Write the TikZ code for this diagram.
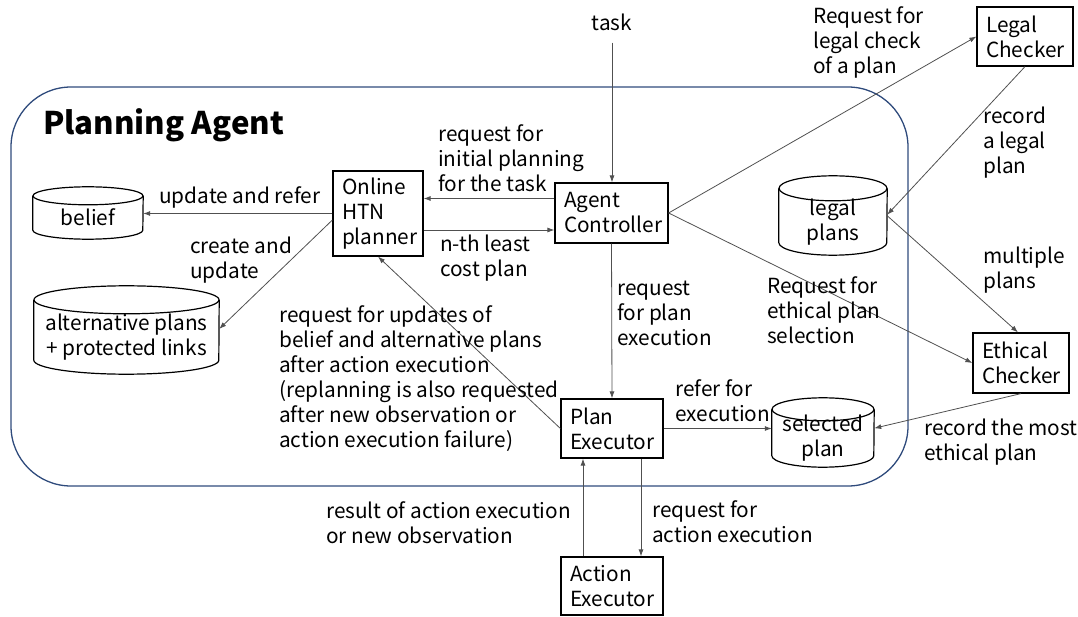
\documentclass[tikz,border=0pt]{standalone}
\usepackage{fontspec}
\setmainfont{Noto Sans CJK JP}
\usepackage{tikz}
\usetikzlibrary{arrows.meta}
\definecolor{framecol}{HTML}{2F4B7C}
\definecolor{linecol}{HTML}{505050}

\begin{document}
\begin{tikzpicture}
[x=1pt,y=-1pt,font=\fontsize{20.8}{25}\selectfont]
\tikzset{
	box/.style = {draw, line width=1.2pt, align=left, inner xsep=9pt, inner ysep=0pt},
	store/.style = {inner sep=0pt, align=center},
	frame/.style = {draw=framecol, line width=1.3pt, rounded corners=60pt},
	lbl/.style = {align=left, inner sep=0pt, anchor=west},
	arr/.style = {draw=linecol, line width=0.8pt, -{Latex[length=7pt,width=5pt]}}
}
\useasboundingbox (0,0) rectangle (1078,617);

\node (agent) [frame, minimum width=897pt, minimum height=399pt] at (459.5,286.5) {};
\node (title) [anchor=base west, inner sep=0pt, font=\fontsize{31.2}{36}\selectfont\bfseries] at (43,135) {Planning Agent};

\node (ac) [box, text width=95pt, minimum height=60pt] at (611.5,213) {Agent\\Controller};
\node (htn) [box, text width=72pt, minimum height=85pt] at (378,213.5) {Online\\HTN\\planner};
\node (lc) [box, text width=78pt, minimum height=59pt] at (1025,36.5) {Legal\\Checker};
\node (ec) [box, text width=78pt, minimum height=60pt] at (1021,363) {Ethical\\Checker};
\node (pe) [box, text width=84pt, minimum height=59pt] at (612,428.5) {Plan\\Executor};
\node (ae) [box, text width=84pt, minimum height=58pt] at (612,586) {Action\\Executor};

% cylinders: node is the body below the top ellipse
\node (belief) [store, minimum width=110pt, minimum height=43pt] at (88,217.5) {belief};
\node (alt) [store, minimum width=185pt, minimum height=74pt] at (126.5,337) {alternative plans\\+ protected links};
\node (legal) [store, minimum width=108pt, minimum height=66.5pt] at (833,221.75) {legal\\plans};
\node (sel) [store, minimum width=102pt, minimum height=57.5pt] at (823,438.25) {selected\\plan};
\foreach \nm/\rx/\ry in {belief/55/9, alt/92.5/14, legal/54/12.5, sel/51/11.5}{
	\draw [line width=1.2pt] (\nm.north) ellipse [x radius=\rx pt, y radius=\ry pt];
	\draw [line width=1.2pt] (\nm.north west) -- ([yshift=\ry pt]\nm.south west)
		arc [start angle=180, end angle=360, x radius=\rx pt, y radius=\ry pt] -- (\nm.north east);
}

\node (task) [inner sep=0pt] at (612,22) {task};
\draw [arr] ([yshift=-12pt]task.south) -- (task.south |- ac.north);

\draw [arr] (htn.west) -- (htn.west -| belief.east);
\draw [arr] ([yshift=-6.5pt]htn.west) -- ([yshift=8pt]alt.east);
\draw [arr] ([yshift=14.5pt]ac.west) -- ([yshift=14.5pt]ac.west -| htn.east);
\draw [arr] ([yshift=-17pt]ac.west -| htn.east) -- ([yshift=-17pt]ac.west);
\draw [arr] (ac.east) -- (lc.west);
\draw [arr] (ac.east) -- (ec.west);
\draw [arr] (lc.south) -- ([yshift=7pt]legal.east);
\draw [arr] ([yshift=6pt]legal.east) -- ([xshift=-3pt]ec.north);
\draw [arr] (ec.south) -- ([yshift=10pt]sel.east);
\draw [arr] (ac.south) -- (pe.north);
\draw [arr] (pe.west) -- (htn.south);
\draw [arr] (pe.east) -- (pe.east -| sel.west);
\draw [arr] ([xshift=29pt]pe.south) -- ([xshift=29pt]ae.north);
\draw [arr] ([xshift=-29pt]ae.north) -- ([xshift=-29pt]pe.south);

\node (l1) [lbl] at (159,197) {update and refer};
\node (l2) [lbl] at (190,260.5) {create and\\update};
\node (l3) [lbl] at (438,158.5) {request for\\initial planning\\for the task};
\node (l4) [lbl] at (440,258.5) {n-th least\\cost plan};
\node (l5) [lbl] at (279,378.5) {request for updates of\\belief and alternative plans\\after action execution\\(replanning is also requested\\after new observation or\\action execution failure)};
\node (l6) [lbl] at (617,313) {request\\for plan\\execution};
\node (l7) [lbl] at (767,310.5) {Request for\\ethical plan\\selection};
\node (l8) [lbl] at (813,42) {Request for\\legal check\\of a plan};
\node (l9) [lbl] at (983,142.5) {record\\a legal\\plan};
\node (l10) [lbl] at (983,270.5) {multiple\\plans};
\node (l11) [lbl] at (675,400.5) {refer for\\execution};
\node (l12) [lbl] at (924,442.5) {record the most\\ethical plan};
\node (l13) [lbl] at (326,523) {result of action execution\\or new observation};
\node (l14) [lbl] at (652,521.5) {request for\\action execution};
\end{tikzpicture}
\end{document}
